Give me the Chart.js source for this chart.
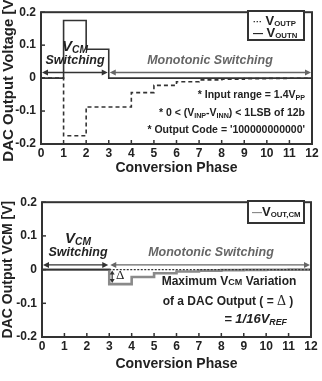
<!DOCTYPE html>
<html><head><meta charset="utf-8">
<script src="https://cdn.jsdelivr.net/npm/chart.js@4.4.1/dist/chart.umd.min.js"></script>
<style>
html,body{margin:0;padding:0;background:#fff;}
#wrap{position:relative;width:322px;height:381px;overflow:hidden;font-family:"Liberation Sans",Arial,sans-serif;font-weight:bold;color:#222;}
canvas{position:absolute;left:0;}
.t{position:absolute;white-space:nowrap;line-height:1;transform:translateY(-50%);}
.c{transform:translate(-50%,-50%);}
.i{font-style:italic;}
sub{font-size:0.68em;vertical-align:-0.28em;line-height:0;}
.lgt sub{font-size:0.6em;vertical-align:-0.2em;}
.sc{font-size:0.75em;}
.lg{position:absolute;border:2px solid #333;background:#fff;box-sizing:border-box;}
</style></head>
<body>
<div id="wrap">
<canvas id="c1" width="322" height="190" style="top:0"></canvas>
<canvas id="c2" width="322" height="191" style="top:190px"></canvas>

<div class="t c i" style="left:75px;top:45px;font-size:15px">V<sub>CM</sub></div>
<div class="t c i" style="left:75px;top:60px;font-size:12.5px">Switching</div>
<div class="t c i" style="left:210px;top:60px;font-size:12.5px;color:#666">Monotonic Switching</div>
<div class="t" style="right:17px;top:94px;font-size:10.5px">* Input range = 1.4V<sub>PP</sub></div>
<div class="t" style="right:17px;top:112px;font-size:10.5px">* 0 &lt; (V<sub>INP</sub>-V<sub>INN</sub>) &lt; 1LSB of 12b</div>
<div class="t" style="right:17px;top:129px;font-size:10.5px">* Output Code = '100000000000'</div>
<div class="lg" style="left:247px;top:10px;width:58px;height:31px">
  <div class="t lgt" style="left:4px;top:8px;font-size:13px"><span style="font-size:9px">···</span> V<sub>OUTP</sub></div>
  <div class="t lgt" style="left:4px;top:20px;font-size:13px"><span style="font-size:10px">—</span> V<sub>OUTN</sub></div>
</div>

<div class="t c i" style="left:78px;top:237px;font-size:15px">V<sub>CM</sub></div>
<div class="t c i" style="left:78px;top:252px;font-size:12.5px">Switching</div>
<div class="t c i" style="left:211px;top:252px;font-size:12.5px;color:#666">Monotonic Switching</div>
<div class="t" style="left:116px;top:274px;font-size:13px;font-family:'Liberation Serif',serif;font-weight:normal">Δ</div>
<div class="t c" style="left:229px;top:281px;font-size:12px">Maximum V<span class="sc">CM</span> Variation</div>
<div class="t c" style="left:228px;top:301px;font-size:12px">of a DAC Output ( = <span style="font-family:'Liberation Serif',serif;font-weight:normal;font-size:14px">Δ</span> )</div>
<div class="t i" style="right:35px;top:318px;font-size:13px">= 1/16V<sub>REF</sub></div>
<div class="lg" style="left:247px;top:200px;width:58px;height:24px">
  <div class="t lgt" style="left:3px;top:9px;font-size:13px"><span style="font-size:10px;color:#888">—</span>V<sub>OUT,CM</sub></div>
</div>
</div>

<script>
// ---- data ----
const phases = [0,1,2,3,4,5,6,7,8,9,10,11,12];
const voutp  = [0,-0.175,-0.0875,-0.0875,-0.044,-0.022,-0.011,-0.0055,-0.003,-0.0015,-0.0008,-0.0004,-0.0004];
const voutn  = [0,0.175,0.0875,0,0,0,0,0,0,0,0,0,0];
const voutcm = [0,0,0,-0.043,-0.022,-0.011,-0.0055,-0.003,-0.0015,-0.0008,-0.0004,-0.0002,-0.0002];
const zeroRef = [0,0,0,0,0,0,0,0,0,0,0,0,0];
const xTickValues = [0,1,2,3,4,5,6,7,8,9,10,11,12];
const xTickLabels = ['0','1','2','3','4','5','6','7','8','9','10','11','12'];
const yTickValues = [-0.2,-0.1,0,0.1,0.2];
const yTickLabels = ['-0.2','-0.1','0','0.1','0.2'];

const pts = arr => phases.map((x,i)=>({x:x,y:arr[i]}));
const FONT = 'Liberation Sans, Arial, sans-serif';

const deco = {
  id:'deco',
  afterDatasetsDraw(chart, args, o){
    const {ctx, chartArea:a, scales:{x,y}} = chart;
    ctx.save();
    ctx.strokeStyle='#333'; ctx.lineWidth=1.5;
    const ln=(x0,y0,x1,y1)=>{ctx.beginPath();ctx.moveTo(x0,y0);ctx.lineTo(x1,y1);ctx.stroke();};
    x.ticks.forEach(t=>{const p=x.getPixelForValue(t.value); ln(p,a.bottom,p,a.bottom-4);});
    y.ticks.forEach(t=>{const p=y.getPixelForValue(t.value); ln(a.left,p,a.left+4,p);});
    ctx.lineWidth=2; ctx.strokeRect(a.left,a.top,a.right-a.left,a.bottom-a.top);
    const head=(tx,ty,dx,dy,col)=>{ctx.fillStyle=col;ctx.beginPath();ctx.moveTo(tx,ty);
      ctx.lineTo(tx-dx*6-dy*3,ty-dy*6-dx*3);ctx.lineTo(tx-dx*6+dy*3,ty-dy*6+dx*3);ctx.closePath();ctx.fill();};
    (o.h||[]).forEach(r=>{
      const x0=x.getPixelForValue(r.x0)+1, x1=x.getPixelForValue(r.x1)-1, py=y.getPixelForValue(r.y);
      ctx.strokeStyle=r.c; ctx.lineWidth=1.3; ln(x0+3,py,x1-3,py);
      head(x0,py,-1,0,r.c); head(x1,py,1,0,r.c);
    });
    (o.v||[]).forEach(r=>{
      const px=x.getPixelForValue(r.x), y0=y.getPixelForValue(r.y0)-1, y1=y.getPixelForValue(r.y1)+1;
      ctx.strokeStyle=r.c; ctx.lineWidth=1.2; ln(px,y0-3,px,y1+3);
      const hd=(tx,ty,d)=>{ctx.fillStyle=r.c;ctx.beginPath();ctx.moveTo(tx,ty);ctx.lineTo(tx-2.5,ty-d*4);ctx.lineTo(tx+2.5,ty-d*4);ctx.closePath();ctx.fill();};
      hd(px,y0,1); hd(px,y1,-1);
    });
    ctx.restore();
  }
};

function makeChart(id, datasets, yTitle, fit, decoOpts){
  return new Chart(document.getElementById(id), {
    type:'line',
    data:{datasets:datasets},
    options:{
      responsive:false, animation:false, devicePixelRatio:1,
      layout:{padding:{top:fit.top,right:fit.right,left:0,bottom:0}},
      plugins:{legend:{display:false},tooltip:{enabled:false},deco:decoOpts},
      elements:{point:{radius:0}},
      scales:{
        x:{type:'linear',min:0,max:12,
          afterBuildTicks:s=>{s.ticks=xTickValues.map(v=>({value:v}));},
          afterFit:s=>{s.height=fit.xh;},
          grid:{display:false,drawTicks:false},
          border:{display:false},
          ticks:{padding:2,color:'#222',font:{family:FONT,size:12,weight:'bold'},
            callback:(v,i)=>xTickLabels[i]},
          title:{display:true,text:'Conversion Phase',color:'#222',font:{family:FONT,size:14,weight:'bold'},padding:{top:2,bottom:fit.tb}}
        },
        y:{type:'linear',min:-0.2,max:0.2,
          afterBuildTicks:s=>{s.ticks=yTickValues.map(v=>({value:v}));},
          afterFit:s=>{s.width=fit.yw;},
          grid:{display:false,drawTicks:false},
          border:{display:false},
          ticks:{padding:5,color:'#222',font:{family:FONT,size:12,weight:'bold'},
            callback:(v,i)=>yTickLabels[i]},
          title:{display:true,text:yTitle,color:'#222',font:{family:FONT,size:fit.ts,weight:'bold'},padding:{top:0,bottom:0}}
        }
      }
    },
    plugins:[deco]
  });
}

makeChart('c1', [
  {label:'VOUTN',data:pts(voutn),stepped:'before',borderColor:'#333',borderWidth:1.6},
  {label:'VOUTP',data:pts(voutp),stepped:'before',borderColor:'#333',borderWidth:1.6,borderDash:[4,3]}
], 'DAC Output Voltage [V]', {top:4,right:10,xh:46,yw:41,tb:13,ts:15},
{h:[{x0:0,x1:3,y:0.017,c:'#333'},{x0:3,x1:12,y:0.017,c:'#666'}]});

makeChart('c2', [
  {label:'ref',data:pts(zeroRef),stepped:'before',borderColor:'#333',borderWidth:1.3,
    segment:{borderDash:c=>c.p0.parsed.x>=3?[2,1.5]:undefined}},
  {label:'VOUT,CM',data:pts(voutcm),stepped:'before',borderColor:'#8a8a8a',borderWidth:2.6}
], 'DAC Output VCM [V]', {top:7,right:11,xh:44,yw:42,tb:8,ts:14},
{h:[{x0:0,x1:3,y:0.014,c:'#333'},{x0:3,x1:12,y:0.014,c:'#666'}],
 v:[{x:3.13,y0:-0.043,y1:0,c:'#333'}]});
</script>
</body></html>
